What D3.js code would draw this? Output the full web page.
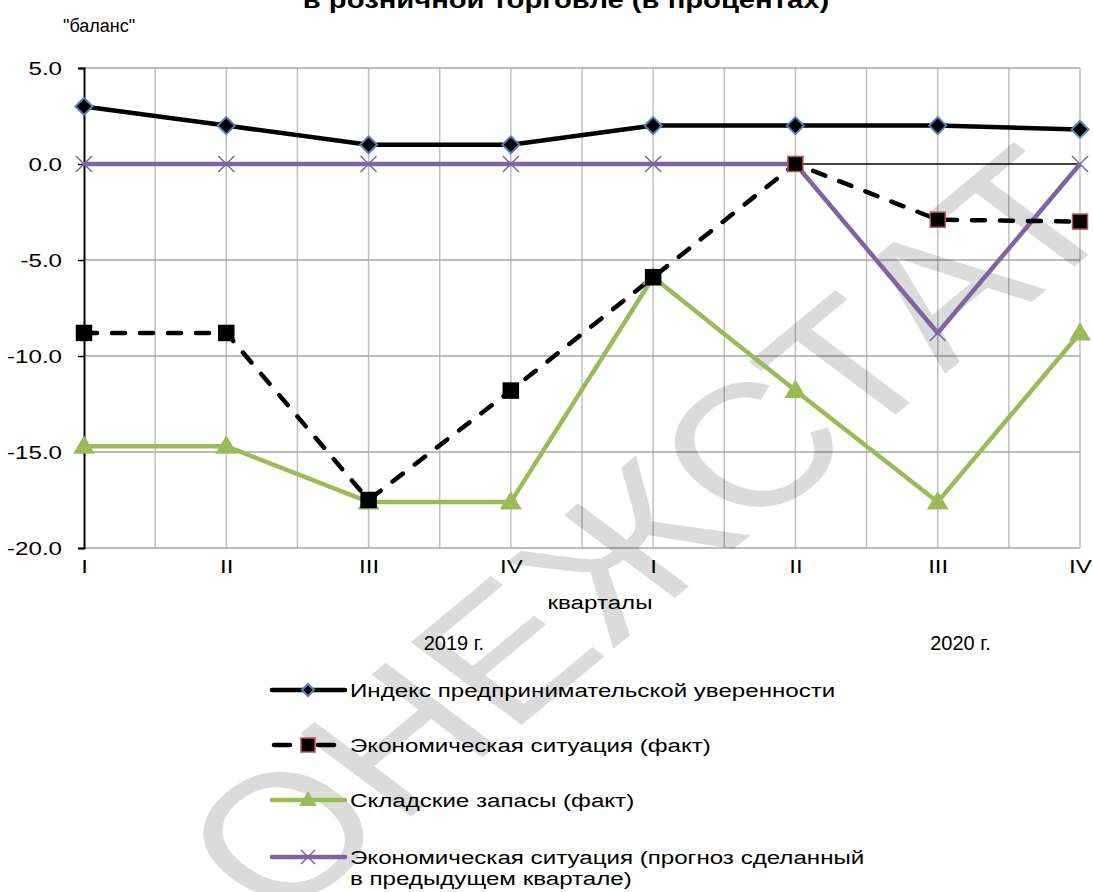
<!DOCTYPE html>
<html>
<head>
<meta charset="utf-8">
<script src="https://cdn.jsdelivr.net/npm/d3@7"></script>
<style>
  html, body { margin: 0; padding: 0; background: #fff; }
  svg { display: block; font-family: Arial, "Liberation Sans", sans-serif; }
</style>
</head>
<body>
<svg id="chart" width="1093" height="892"></svg>
<script>
// ---- data ----
const quarters = ["I", "II", "III", "IV", "I", "II", "III", "IV"];
const years = ["2019 г.", "2020 г."];
const yTicks = [5, 0, -5, -10, -15, -20];
const indexConfidence = [3, 2, 1, 1, 2, 2, 2, 1.8];
const econFact = [-8.8, -8.8, -17.5, -11.8, -5.9, 0, -2.9, -3];
const stocksFact = [-14.7, -14.7, -17.6, -17.6, -5.9, -11.8, -17.6, -8.8];
const econForecast = [0, 0, 0, 0, 0, 0, -8.8, 0];
const seriesNames = [
  "Индекс предпринимательской уверенности",
  "Экономическая ситуация (факт)",
  "Складские запасы (факт)",
  "Экономическая ситуация (прогноз сделанный|в предыдущем квартале)"
];
const titleText = "в розничной торговле (в процентах)";
const yLabel = "\"баланс\"";
const xLabel = "кварталы";
const watermark = "ОНЕЖСТАТ";

// ---- layout ----
const SX = 1.27; // horizontal stretch of the original text
const svg = d3.select("#chart");
const L = 84, R = 1080, T = 68, B = 548;
const x = d3.scaleLinear().domain([0, quarters.length - 1]).range([L, R]);
const y = d3.scaleLinear().domain([-20, 5]).range([B, T]);

function sText(parent, tx, ty, str, size, anchor, weight) {
  return parent.append("text")
    .attr("transform", `translate(${tx},${ty}) scale(${SX},1)`)
    .attr("text-anchor", anchor || "start")
    .attr("font-size", size)
    .attr("font-weight", weight || "normal")
    .attr("fill", "#000")
    .text(str);
}

// title (cut off at top)
sText(svg, 566, 8, titleText, 23, "middle", "bold");
svg.append("text").attr("x", 63).attr("y", 32).attr("font-size", 18).text(yLabel);

// vertical gridlines at half steps
const vGrid = d3.range(0.5, quarters.length - 1 + 0.01, 0.5);
svg.append("g").selectAll("line").data(vGrid).join("line")
  .attr("x1", d => x(d)).attr("x2", d => x(d)).attr("y1", T).attr("y2", B)
  .attr("stroke", "#bfbfbf").attr("stroke-width", 1.5);
// horizontal gridlines
svg.append("g").selectAll("line").data(yTicks.filter(d => d !== 0)).join("line")
  .attr("x1", L).attr("x2", R).attr("y1", d => y(d)).attr("y2", d => y(d))
  .attr("stroke", "#a6a6a6").attr("stroke-width", 1.5);
// zero axis line
svg.append("line").attr("x1", L).attr("x2", R).attr("y1", y(0)).attr("y2", y(0))
  .attr("stroke", "#000").attr("stroke-width", 1.5);

// y axis
const fmt = d => d3.format(".1f")(d).replace("−", "-");
const yAxis = d3.axisLeft(y).tickValues(yTicks).tickFormat(fmt).tickSize(6).tickPadding(22);
const gy = svg.append("g").attr("transform", `translate(${L},0)`).call(yAxis);
gy.select(".domain").attr("stroke", "#000").attr("stroke-width", 2);
gy.selectAll(".tick line").attr("stroke", "#000").attr("stroke-width", 1.5);
gy.selectAll(".tick text").attr("font-size", 19).attr("fill", "#000")
  .attr("font-family", "Arial, 'Liberation Sans', sans-serif")
  .attr("x", -22 / SX).attr("transform", `scale(${SX},1)`).text(fmt);

// x tick labels
const xAxis = d3.axisBottom(x).tickValues(d3.range(quarters.length)).tickFormat(i => quarters[i]).tickSize(0).tickPadding(12);
const gx = svg.append("g").attr("transform", `translate(0,${B})`).call(xAxis);
gx.select(".domain").remove();
gx.selectAll(".tick text").attr("font-size", 19).attr("fill", "#000")
  .attr("font-family", "Arial, 'Liberation Sans', sans-serif").attr("transform", `scale(${SX},1)`);

sText(svg, 600, 609, xLabel, 19, "middle");
svg.append("text").attr("x", x(2.6)).attr("y", 650).attr("text-anchor", "middle").attr("font-size", 20).text(years[0]);
svg.append("text").attr("x", x(6.16)).attr("y", 650).attr("text-anchor", "middle").attr("font-size", 20).text(years[1]);

// ---- watermark (under the series) ----
svg.append("text").attr("transform", "translate(648,532) scale(1.27,1) rotate(-46.5)")
  .attr("text-anchor", "middle").attr("dominant-baseline", "central")
  .attr("font-size", 175).attr("fill", "#000").attr("fill-opacity", 0.14)
  .text(watermark);

// ---- series ----
const line = d3.line().x((d, i) => x(i)).y(d => y(d));
const series = [
  { data: econForecast, color: "#8064a2", dash: null, marker: "x", mFill: "none", mStroke: "#8064a2" },
  { data: stocksFact, color: "#9bbb59", dash: null, marker: "tri", mFill: "#9bbb59", mStroke: "#9bbb59" },
  { data: econFact, color: "#000", dash: "13,15", marker: "sq", mFill: "#000", mStroke: "#000" },
  { data: indexConfidence, color: "#000", dash: null, marker: "dia", mFill: "#000", mStroke: "#4f81bd" }
];
const redIdx = [5, 6, 7];

function drawMarker(g, type, cx, cy, fill, stroke, s) {
  if (type === "dia") {
    g.append("path").attr("d", `M${cx},${cy - s}L${cx + s},${cy}L${cx},${cy + s}L${cx - s},${cy}Z`)
      .attr("fill", fill).attr("stroke", stroke).attr("stroke-width", 2);
  } else if (type === "sq") {
    g.append("rect").attr("x", cx - s).attr("y", cy - s).attr("width", 2 * s).attr("height", 2 * s)
      .attr("fill", fill).attr("stroke", stroke).attr("stroke-width", 1.5);
  } else if (type === "tri") {
    g.append("path").attr("d", `M${cx},${cy - s * 1.1}L${cx + s * 1.1},${cy + s * 0.75}L${cx - s * 1.1},${cy + s * 0.75}Z`)
      .attr("fill", fill);
  } else if (type === "x") {
    g.append("path").attr("d", `M${cx - s},${cy - s}L${cx + s},${cy + s}M${cx - s},${cy + s}L${cx + s},${cy - s}`)
      .attr("stroke", stroke).attr("stroke-width", 1.5);
  }
}

const gS = svg.append("g");
series.forEach(s => {
  gS.append("path").attr("d", line(s.data)).attr("fill", "none").attr("stroke", s.color)
    .attr("stroke-width", 4.5).attr("stroke-dasharray", s.dash).attr("stroke-linecap", s.dash ? "round" : "butt")
    .attr("stroke-linejoin", "round");
});
series.forEach(s => {
  s.data.forEach((v, i) => {
    const st = (s.marker === "sq" && redIdx.includes(i)) ? "#c0504d" : s.mStroke;
    const size = s.marker === "tri" ? 10 : (s.marker === "dia" ? 8.5 : (s.marker === "x" ? 8 : 7.5));
    drawMarker(gS, s.marker, x(i), y(v), s.mFill, st, size);
  });
});

// ---- legend ----
const legY = [690, 745, 800, 857];
const gL = svg.append("g");
series.slice().reverse().forEach((s, k) => {
  const ly = legY[k];
  if (s.dash) {
    gL.append("line").attr("x1", 274).attr("x2", 290).attr("y1", ly).attr("y2", ly)
      .attr("stroke", s.color).attr("stroke-width", 4.5).attr("stroke-linecap", "round");
    gL.append("line").attr("x1", 318).attr("x2", 334).attr("y1", ly).attr("y2", ly)
      .attr("stroke", s.color).attr("stroke-width", 4.5).attr("stroke-linecap", "round");
  } else {
    gL.append("line").attr("x1", 272).attr("x2", 345).attr("y1", ly).attr("y2", ly)
      .attr("stroke", s.color).attr("stroke-width", 4.5).attr("stroke-linecap", "round");
  }
  const st = s.marker === "sq" ? "#c0504d" : s.mStroke;
  const size = s.marker === "tri" ? 8 : (s.marker === "dia" ? 6 : 7);
  drawMarker(gL, s.marker, 308, ly, s.mFill, st, size);
  const parts = seriesNames[k].split("|");
  parts.forEach((p, j) => sText(gL, 350, ly + 7 + j * 21, p, 19));
});
</script>
</body>
</html>
